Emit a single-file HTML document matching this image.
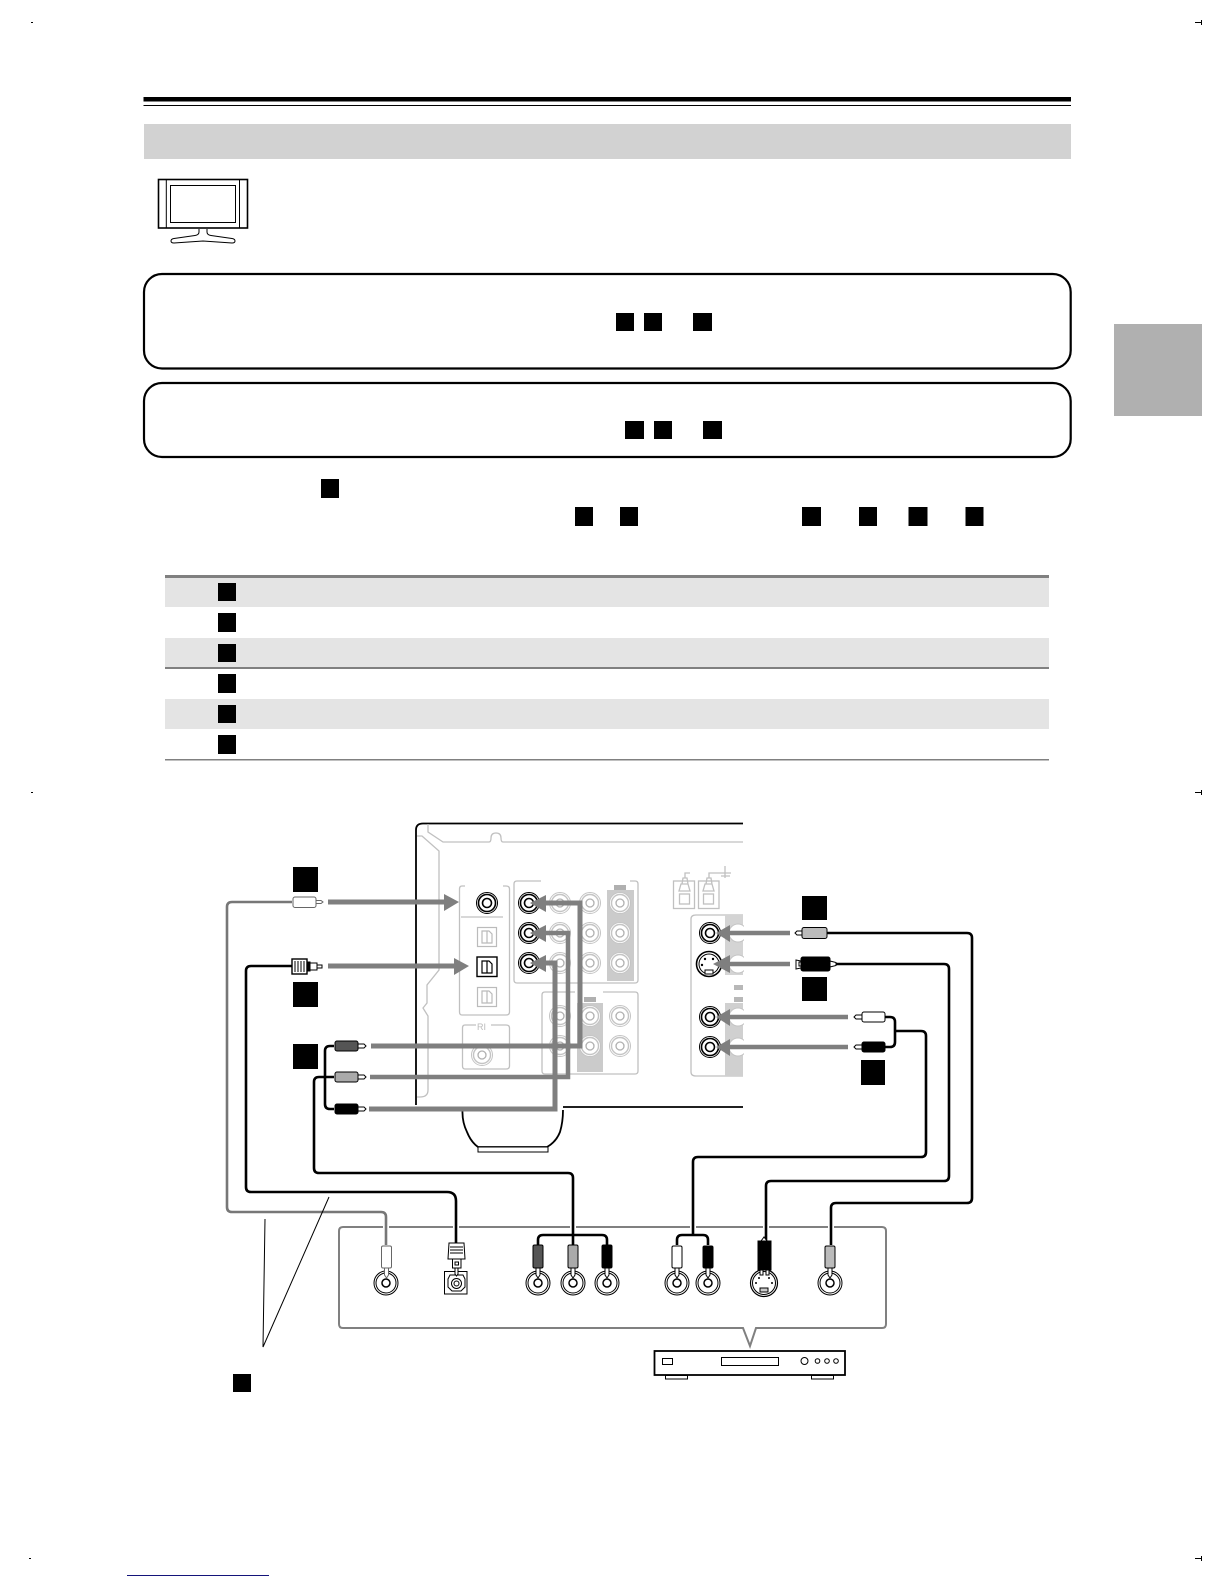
<!DOCTYPE html>
<html><head><meta charset="utf-8"><title>Connection diagram</title>
<style>html,body{margin:0;padding:0;background:#fff}svg{display:block}</style></head>
<body>
<svg xmlns="http://www.w3.org/2000/svg" width="1224" height="1584" viewBox="0 0 1224 1584">
<defs>
<g id="rb"><circle r="10.5" fill="#fff" stroke="#000" stroke-width="1"/><circle r="8.5" fill="#fff" stroke="#000" stroke-width="1.6"/><circle r="4.5" fill="#fff" stroke="#000" stroke-width="1.6"/></g>
<g id="rl"><circle r="10.5" fill="#fff" stroke="#c4c4c4" stroke-width="1"/><circle r="8.5" fill="#fff" stroke="#c4c4c4" stroke-width="1.4"/><circle r="4" fill="#fff" stroke="#b0b0b0" stroke-width="1.3"/></g>
<g id="rd"><circle r="12" fill="#fff" stroke="#000" stroke-width="1"/><circle r="10" fill="#fff" stroke="#000" stroke-width="1"/><circle r="4" fill="#fff" stroke="#000" stroke-width="1.5"/></g>
<g id="ol"><rect x="-9.5" y="-9.5" width="19" height="19" fill="#fff" stroke="#bbb" stroke-width="1.2"/><path d="M-5,-6H2L5,-3V6H-5Z M0,-6V6" fill="none" stroke="#bbb" stroke-width="1.2"/></g>
</defs>

<!-- crop marks -->
<g fill="#000"><rect x="31" y="22" width="2" height="1"/><rect x="31" y="792" width="2" height="1"/><rect x="29" y="1558" width="2" height="1"/>
<rect x="1195" y="22" width="6" height="1"/><rect x="1201" y="20" width="1" height="5"/>
<rect x="1195" y="792" width="6" height="1"/><rect x="1201" y="790" width="1" height="5"/>
<rect x="1195" y="1558" width="6" height="1"/><rect x="1201" y="1556" width="1" height="5"/></g>
<rect x="127" y="1575" width="142" height="1" fill="#14147a"/>

<!-- header -->
<rect x="143.5" y="97" width="927.5" height="4.5" fill="#000"/>
<rect x="143.5" y="105" width="927.5" height="1" fill="#000"/>
<rect x="144" y="124" width="927" height="35" fill="#d2d2d2"/>

<!-- tv -->
<g fill="none" stroke="#000">
<rect x="158.5" y="179.5" width="89" height="48.5" stroke-width="1.6"/>
<path d="M166.300,180V228M239.500,180V228" stroke-width="1"/>
<rect x="170.500" y="185.500" width="65" height="37" stroke-width="1"/>
<path d="M199,229V232Q199,235 195,235.500L174,238.500Q171,239 171,241Q171,243 174,243L203,241L232,243Q235,243 235,241Q235,239 232,238.500L211,235.500Q207,235 207,232V229" stroke-width="1"/>
</g>

<!-- tab -->
<rect x="1114" y="324" width="88" height="92" fill="#b0b0b0"/>

<!-- boxes -->
<rect x="144" y="274" width="926.700" height="94.500" rx="18" fill="#fff" stroke="#000" stroke-width="2.200"/>
<rect x="144" y="383" width="926.700" height="74" rx="18" fill="#fff" stroke="#000" stroke-width="2.200"/>
<g fill="#000">
<rect x="616" y="313" width="18" height="18"/><rect x="644" y="313" width="18" height="18"/><rect x="693" y="313" width="19" height="18"/>
<rect x="625" y="421" width="19" height="18"/><rect x="654" y="421" width="18" height="18"/><rect x="703" y="421" width="19" height="18"/>
<rect x="321" y="479" width="18" height="19"/>
<rect x="575" y="507" width="18" height="19"/><rect x="620" y="507" width="18" height="19"/>
<rect x="802" y="507" width="19" height="19"/><rect x="859" y="507" width="18" height="19"/><rect x="908.500" y="507" width="19" height="19"/><rect x="965.500" y="507" width="18" height="19"/>
</g>

<!-- table -->
<rect x="165" y="575" width="884" height="3" fill="#808080"/>
<rect x="165" y="578" width="884" height="29" fill="#e4e4e4"/>
<rect x="165" y="638" width="884" height="29" fill="#e4e4e4"/>
<rect x="165" y="667" width="884" height="2" fill="#808080"/>
<rect x="165" y="699" width="884" height="30" fill="#e4e4e4"/>
<rect x="165" y="759" width="884" height="1.500" fill="#808080"/>
<g fill="#000">
<rect x="218" y="583" width="18" height="18"/><rect x="218" y="613" width="18" height="19"/><rect x="218" y="644" width="18" height="18"/>
<rect x="218" y="674" width="18" height="19"/><rect x="218" y="705" width="18" height="18"/><rect x="218" y="735" width="18" height="19"/>
</g>

<!-- receiver -->
<g fill="none" stroke="#000" stroke-width="1.800">
<path d="M416,1105V830Q416,823.500 423,823.500H743"/>
<path d="M563,1107H743"/>
<path d="M462.500,1110Q462,1122 467,1132Q471,1142 478,1147H547Q556,1142 560,1132Q563,1122 563,1110"/>
</g>
<rect x="478" y="1147" width="70" height="5" fill="#fff" stroke="#000" stroke-width="1"/>
<g fill="none" stroke="#c0c0c0" stroke-width="1.300">
<path d="M428,824V832L443,842H489Q491,842 491,838Q491,833 496,833Q501,833 501,838Q501,842 503,842H743"/>
<path d="M417,836H422L439,851V970L427,985V1003L423,1008L428,1016V1090Q428,1097 420,1097H417"/>
<path d="M465,886H462Q459.500,886 459.500,889V1012Q459.500,1015 462,1015H506Q509.500,1015 509.500,1012V889Q509.500,886 506,886H503"/>
<path d="M461,917H503"/>
<path d="M476,1025H465Q462.500,1025 462.500,1028V1066Q462.500,1069 465,1069H506Q509.500,1069 509.500,1066V1028Q509.500,1025 506,1025H491"/>
<path d="M541,881H517Q514,881 514,884V980Q514,983 517,983H635Q638,983 638,980V884Q638,881 635,881H630"/>
<path d="M575,992H545Q542,992 542,995V1071Q542,1074 545,1074H635Q638,1074 638,1071V995Q638,992 635,992H603"/>
<path d="M743,915H696Q691,915 691,919V1072Q691,1076 696,1076H743"/>
<rect x="673.500" y="881" width="21" height="27.500"/><rect x="698.500" y="881" width="20.500" height="27.500"/>
<path d="M679,891H690L688,884H681ZM703,891H714L712,884H705ZM682,884L683,878H687L688,884M706,884L707,878H711L712,884"/>
<path d="M685,878V873H690M709,878V873H721M725,866V878M720,873H731M721,876H730"/>
<rect x="679.500" y="894" width="10" height="10"/><rect x="703.500" y="894" width="10" height="10"/>
</g>
<text x="477" y="1030" font-family="Liberation Sans, sans-serif" font-size="9" fill="#bbb">RI</text>
<rect x="607" y="890" width="27" height="91" fill="#cbcbcb"/><rect x="614" y="885" width="12" height="5" fill="#b0b0b0"/>
<rect x="577" y="1003" width="26" height="69" fill="#cbcbcb"/><rect x="584" y="997" width="12" height="5" fill="#b0b0b0"/>
<rect x="725" y="915" width="18" height="60" fill="#d4d4d4"/><rect x="725" y="1003" width="18" height="73" fill="#d0d0d0"/>
<rect x="734" y="985" width="9" height="5" fill="#b8b8b8"/><rect x="734" y="997" width="9" height="5" fill="#b8b8b8"/>
<g>
<use href="#rl" x="560" y="903"/><use href="#rl" x="590" y="903"/><use href="#rl" x="620" y="903"/>
<use href="#rl" x="560" y="933"/><use href="#rl" x="590" y="933"/><use href="#rl" x="620" y="933"/>
<use href="#rl" x="560" y="963"/><use href="#rl" x="590" y="963"/><use href="#rl" x="620" y="963"/>
<use href="#rl" x="560" y="1016"/><use href="#rl" x="590" y="1016"/><use href="#rl" x="620" y="1016"/>
<use href="#rl" x="560" y="1046"/><use href="#rl" x="590" y="1046"/><use href="#rl" x="620" y="1046"/>
<use href="#rl" x="482" y="1055"/>
<use href="#ol" x="487" y="937"/><use href="#ol" x="487" y="997"/>
</g>
<circle cx="738" cy="933" r="9" fill="#fff" stroke="#c4c4c4"/><circle cx="738" cy="964" r="9" fill="#fff" stroke="#c4c4c4"/><circle cx="738" cy="1017" r="9" fill="#fff" stroke="#c4c4c4"/><circle cx="738" cy="1047" r="9" fill="#fff" stroke="#c4c4c4"/>
<rect x="744" y="905" width="30" height="180" fill="#fff"/>
<!-- black jacks -->
<use href="#rb" x="487" y="903"/>
<use href="#rb" x="529" y="903"/><use href="#rb" x="529" y="933"/><use href="#rb" x="529" y="963"/>
<use href="#rb" x="710" y="933"/><use href="#rb" x="710" y="1017"/><use href="#rb" x="710" y="1047"/>
<g><circle cx="709" cy="964" r="12.500" fill="#fff" stroke="#000" stroke-width="1.600"/><circle cx="709" cy="964" r="10" fill="#fff" stroke="#000" stroke-width="1"/><rect x="705" y="970" width="8" height="4" fill="#fff" stroke="#000"/><circle cx="705" cy="959" r="1.200"/><circle cx="713" cy="959" r="1.200"/><circle cx="702" cy="965" r="1.200"/></g>
<rect x="477" y="957" width="20" height="19.500" fill="#fff" stroke="#000" stroke-width="1.400"/>
<path d="M482,961H489L492,964V973H482Z M487,961V973" fill="none" stroke="#000" stroke-width="1.200"/>

<!-- gray arrows -->
<g fill="none" stroke="#7f7f7f">
<path d="M328,902H446" stroke-width="5"/>
<path d="M328,966H456" stroke-width="5"/>
<path d="M371,1046H580V903H545" stroke-width="5"/>
<path d="M370,1077H568V933H545" stroke-width="4.500"/>
<path d="M369,1109H555V963H545" stroke-width="5"/>
<path d="M790,933H728" stroke-width="4.500"/>
<path d="M790,964H728" stroke-width="4.500"/>
<path d="M848,1017H728" stroke-width="4.500"/>
<path d="M848,1047H728" stroke-width="4.500"/>
</g>
<g fill="#7f7f7f">
<path d="M459,902L444,894V911Z"/><path d="M469,966L454,958V975Z"/>
<path d="M530,903L546,895V912Z"/><path d="M530,933L546,925V942Z"/><path d="M530,963L546,955V972Z"/>
<path d="M716,933L730,925V942Z"/><path d="M713,964L730,955V973Z"/><path d="M716,1017L730,1009V1026Z"/><path d="M716,1047L730,1039V1056Z"/>
</g>

<!-- bottom panel -->
<path d="M343,1227H882Q886,1227 886,1231V1324Q886,1328 882,1328H756L750,1346L743,1328H343Q339,1328 339,1324V1231Q339,1227 343,1227Z" fill="#fff" stroke="#808080" stroke-width="2"/>
<g fill="none" stroke="#fff" stroke-width="6">
<path d="M386,1222V1238M456,1222V1238M573,1222V1234M693,1222V1234M766,1222V1234M831,1222V1238"/>
</g>

<!-- cables -->
<g fill="none" stroke-linejoin="round">
<path d="M292,902H232Q227,902 227,907V1207Q227,1212 232,1212H381Q386,1212 386,1217V1245" stroke="#777" stroke-width="2.600"/>
<path d="M292,966H251Q246,966 246,971V1187Q246,1192 251,1192H447Q456,1192 456,1201V1243" stroke="#000" stroke-width="2.600"/>
<path d="M334,1077H319Q314,1077 314,1082V1168Q314,1173 319,1173H568Q573,1173 573,1178V1245" stroke="#000" stroke-width="2.600"/>
<path d="M334,1046H330Q325,1046 325,1051V1104Q325,1109 330,1109H334" stroke="#000" stroke-width="2.600"/>
<path d="M827,933H967Q972,933 972,938V1198Q972,1203 967,1203H836Q831,1203 831,1208V1245" stroke="#000" stroke-width="2.600"/>
<path d="M835,964H944Q949,964 949,969V1176Q949,1181 944,1181H771Q766,1181 766,1186V1243" stroke="#000" stroke-width="2.600"/>
<path d="M885,1017H890Q895,1017 895,1022V1042Q895,1047 890,1047H885M895,1031H921Q926,1031 926,1036V1152Q926,1157 921,1157H698Q693,1157 693,1162V1235" stroke="#000" stroke-width="2.600"/>
<path d="M538,1245V1240Q538,1235 543,1235H602Q607,1235 607,1240V1245" stroke="#000" stroke-width="2.600"/>
<path d="M677,1245V1240Q677,1235 682,1235H703Q708,1235 708,1240V1245" stroke="#000" stroke-width="2.600"/>
</g>

<!-- horizontal plugs -->
<g stroke="#000" stroke-width="1">
<rect x="293" y="897" width="23" height="10.500" rx="2" fill="#fff" stroke="#666"/><path d="M316,900.500H321L323,902L321,903.500H316Z" fill="#fff" stroke="#666"/>
<rect x="292" y="959" width="15" height="15" fill="#fff" stroke-width="1.400"/><path d="M295,961V972M298,961V972M301,961V972M304,961V972" stroke-width="1"/><rect x="307" y="962" width="3" height="9" fill="#000"/><rect x="310" y="963" width="7" height="7" fill="#fff"/><rect x="317" y="965" width="5" height="3" fill="#fff"/>
<rect x="335" y="1041" width="23" height="10" rx="2" fill="#555"/><path d="M358,1044H364L366,1046L364,1048H358Z" fill="#fff"/>
<rect x="335" y="1072" width="23" height="10" rx="2" fill="#aaa"/><path d="M358,1075H364L366,1077L364,1079H358Z" fill="#fff"/>
<rect x="335" y="1104" width="23" height="10" rx="2" fill="#000"/><path d="M358,1107H364L366,1109L364,1111H358Z" fill="#fff"/>
<rect x="802" y="927.500" width="25" height="11" rx="2" fill="#bbb"/><path d="M802,931H797L795,933L797,935H802Z" fill="#fff"/>
<rect x="801" y="957" width="29" height="14" rx="2" fill="#000"/><path d="M830,961L836,962.500V965.500L830,967Z" fill="#fff"/><path d="M796,960L801,961V962H799V966H801V968L796,969Z" fill="#fff"/>
<rect x="862" y="1012" width="23" height="10" rx="2" fill="#fff"/><path d="M862,1015H856L854,1017L856,1019H862Z" fill="#fff"/>
<rect x="862" y="1042" width="23" height="10" rx="2" fill="#000"/><path d="M862,1045H856L854,1047L856,1049H862Z" fill="#fff"/>
</g>

<!-- panel jacks -->
<use href="#rd" x="386" y="1283"/><use href="#rd" x="538" y="1283"/><use href="#rd" x="573" y="1283"/><use href="#rd" x="607" y="1283"/>
<use href="#rd" x="677" y="1283"/><use href="#rd" x="708" y="1283"/><use href="#rd" x="830" y="1283"/>
<g fill="#fff" stroke="#000" stroke-width="1">
<rect x="444.500" y="1271.500" width="22.500" height="22.500"/>
<path d="M450,1275H463L465,1279V1287L461,1291H452L448,1287V1279Z"/><circle cx="456.500" cy="1283.500" r="5"/><circle cx="456.500" cy="1283.500" r="2.500"/>
</g>
<g fill="#fff" stroke="#000"><circle cx="764" cy="1283" r="13.500" stroke-width="1.200"/><circle cx="764" cy="1283" r="11.500" stroke-width="1"/><rect x="760" y="1288" width="8" height="4" fill="#ccc"/></g>
<g fill="#000"><circle cx="759" cy="1278" r="1"/><circle cx="769" cy="1278" r="1"/><circle cx="756" cy="1283" r="1"/><circle cx="772" cy="1283" r="1"/></g>

<!-- vertical plugs -->
<g stroke="#000" stroke-width="1">
<g fill="#fff" stroke="#666"><rect x="381.500" y="1246" width="10" height="22" rx="1.500"/></g><path d="M384.500,1268H388.500V1275L386.500,1278L384.500,1275Z" fill="#fff" stroke="#666"/>
<rect x="533" y="1245" width="10" height="23" rx="1.500" fill="#555"/><path d="M536,1268H540V1275L538,1278L536,1275Z" fill="#fff"/>
<rect x="568" y="1245" width="10" height="23" rx="1.500" fill="#aaa"/><path d="M571,1268H575V1275L573,1278L571,1275Z" fill="#fff"/>
<rect x="602" y="1245" width="10" height="23" rx="1.500" fill="#000"/><path d="M605,1268H609V1275L607,1278L605,1275Z" fill="#fff"/>
<rect x="672" y="1246" width="10" height="22" rx="1.500" fill="#fff"/><path d="M675,1268H679V1275L677,1278L675,1275Z" fill="#fff"/>
<rect x="703" y="1246" width="10" height="22" rx="1.500" fill="#000"/><path d="M706,1268H710V1275L708,1278L706,1275Z" fill="#fff"/>
<rect x="825" y="1246" width="10" height="22" rx="1.500" fill="#bbb"/><path d="M828,1268H832V1275L830,1278L828,1275Z" fill="#fff"/>
<path d="M758,1241H771V1270H758Z" fill="#000"/><path d="M761,1241L764,1237L767,1241Z" fill="#fff"/><rect x="760" y="1270" width="3" height="5" fill="#fff"/><rect x="766" y="1270" width="3" height="5" fill="#fff"/>
<path d="M449,1243H464L465,1259H448Z" fill="#fff"/><path d="M450,1247H463M450,1250H463M450,1253H463"/><rect x="452.500" y="1259" width="8.500" height="9" fill="#fff"/><rect x="455" y="1262" width="3.500" height="3" fill="#fff"/><path d="M455,1268H458V1274L456.500,1276L455,1274Z" fill="#fff"/>
</g>

<!-- labels -->
<g fill="#000">
<rect x="293" y="867" width="25" height="25"/><rect x="293" y="982" width="25" height="25"/><rect x="293" y="1044" width="25" height="25"/>
<rect x="802" y="896" width="25" height="24"/><rect x="802" y="977" width="25" height="24"/><rect x="861" y="1060" width="24" height="25"/>
<rect x="233" y="1374" width="18" height="18"/>
</g>
<path d="M265,1219L263,1347L329,1197" fill="none" stroke="#000" stroke-width="1"/>

<!-- player -->
<rect x="654.500" y="1351" width="190.500" height="24" fill="#fff" stroke="#000" stroke-width="1.800"/>
<rect x="665.500" y="1375.500" width="22" height="3.500" fill="#fff" stroke="#000" stroke-width="1"/><rect x="811.500" y="1375.500" width="22" height="3.500" fill="#fff" stroke="#000" stroke-width="1"/>
<g fill="none" stroke="#000" stroke-width="1"><rect x="662.500" y="1358.500" width="10" height="6"/><rect x="721.500" y="1357.500" width="57" height="8"/>
<circle cx="804.500" cy="1361" r="3.500"/><circle cx="817.500" cy="1361" r="2.300"/><circle cx="827" cy="1361" r="2.300"/><circle cx="836" cy="1361" r="2.300"/></g>
</svg>
</body></html>
